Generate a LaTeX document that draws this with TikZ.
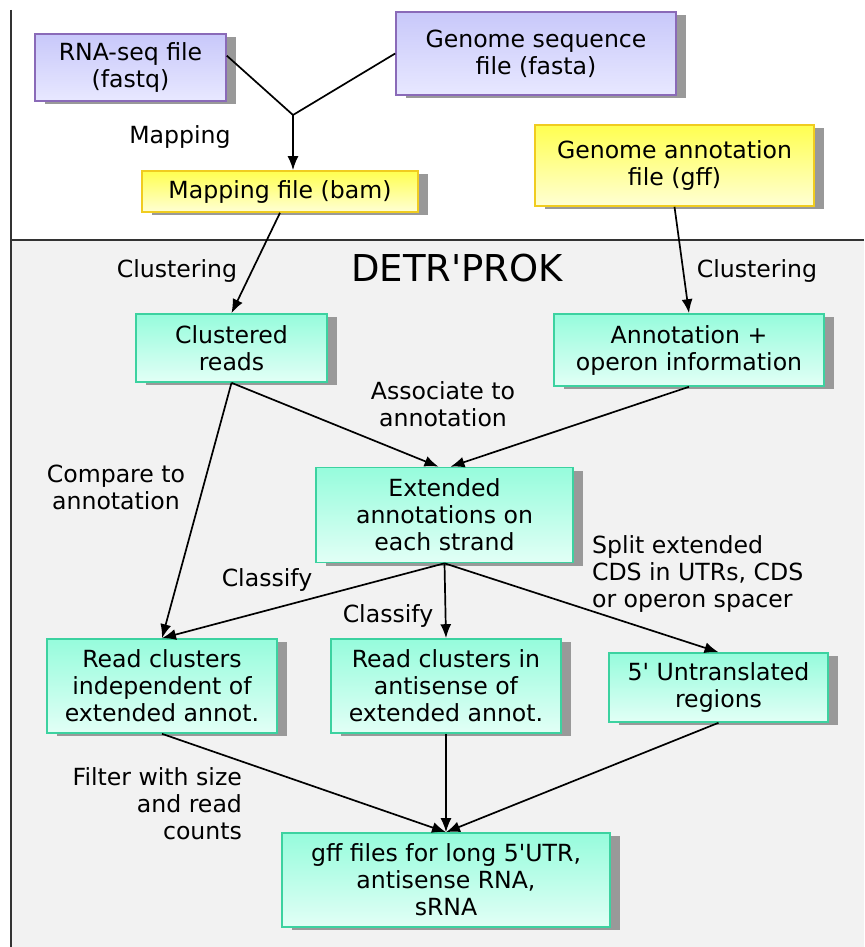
\documentclass[tikz,border=0pt]{standalone}
\usepackage{fontspec}
\setmainfont{DejaVu Sans}
\usetikzlibrary{arrows.meta,shadows,calc}
\definecolor{intop}{HTML}{C8C8FA}
\definecolor{inbot}{HTML}{E8E8FF}
\definecolor{inbord}{HTML}{8A6AB8}
\definecolor{filetop}{HTML}{FFFF50}
\definecolor{filebot}{HTML}{FFFFD4}
\definecolor{filebord}{HTML}{F0CC20}
\definecolor{steptop}{HTML}{96FCDC}
\definecolor{stepbot}{HTML}{E2FFF6}
\definecolor{stepbord}{HTML}{3CD2A0}
\definecolor{framefill}{HTML}{F2F2F2}
\definecolor{framecol}{HTML}{333333}
\newcommand{\apos}{\textquotesingle}
\begin{document}
\begin{tikzpicture}[x=0.5pt,y=-0.5pt,
  box/.style={draw,line width=0.8pt,align=center,inner sep=0pt,font=\fontsize{11.8}{13.5}\selectfont,
    general shadow={fill=black!40,shadow xshift=5pt,shadow yshift=-1.5pt}},
  inputbox/.style={box,draw=inbord,top color=intop,bottom color=inbot},
  filebox/.style={box,draw=filebord,top color=filetop,bottom color=filebot},
  stepbox/.style={box,draw=stepbord,top color=steptop,bottom color=stepbot},
  link/.style={line width=0.85pt,-{Latex[length=7pt,width=5.5pt]}},
  label/.style={align=center,font=\fontsize{11.8}{13.5}\selectfont}]
\useasboundingbox (0,0) rectangle (864,947);
% frame of the tool
\fill[framefill] (11,240) rectangle (864,947);
\draw[framecol,line width=0.8pt] (11,10) -- (11,947);
\draw[framecol,line width=0.8pt] (11,240) -- (864,240);
\node[font=\fontsize{18.5}{20}\selectfont] (title) at (457,268) {DETR\apos PROK};
% input files
\node[inputbox,minimum width=95.5pt,minimum height=33.5pt] (rnaseq) at (130.5,67.5) {RNA-seq file\\(fastq)};
\node[inputbox,minimum width=140pt,minimum height=41.5pt] (genseq) at (536,53.5) {Genome sequence\\file (fasta)};
\node[filebox,minimum width=138pt,minimum height=20.5pt] (bam) at (280,191.5) {Mapping file (bam)};
\node[filebox,minimum width=139.5pt,minimum height=40.5pt] (genann) at (674.5,165.5) {Genome annotation\\file (gff)};
% steps
\node[stepbox,minimum width=95.5pt,minimum height=34pt] (clreads) at (231.5,348) {Clustered\\reads};
\node[stepbox,minimum width=135pt,minimum height=36pt] (annop) at (689,350) {Annotation +\\operon information};
\node[stepbox,minimum width=128.5pt,minimum height=47.5pt] (extann) at (444.5,515) {Extended\\annotations on\\each strand};
\node[stepbox,minimum width=115pt,minimum height=47pt] (indep) at (162,686) {Read clusters\\independent of\\extended annot.};
\node[stepbox,minimum width=115pt,minimum height=47pt] (antis) at (446,686) {Read clusters in\\antisense of\\extended annot.};
\node[stepbox,minimum width=109.5pt,minimum height=34.5pt] (utr) at (718.5,687.5) {5\apos{} Untranslated\\regions};
\node[stepbox,minimum width=164pt,minimum height=47pt] (gff) at (446,880) {gff files for long 5\apos UTR,\\antisense RNA,\\sRNA};
% labels
\node[label] (maplab) at (180,137) {Mapping};
\node[label] (clustlabl) at (177,271) {Clustering};
\node[label] (clustlabr) at (757,271) {Clustering};
\node[label] (assoclab) at (443,404) {Associate to\\annotation};
\node[label] (complab) at (116,487) {Compare to\\annotation};
\node[label] (classlabl) at (267,580) {Classify};
\node[label] (classlabm) at (388,616) {Classify};
\node[label,align=left,anchor=west] (splitlab) at (585,574) {Split extended\\CDS in UTRs, CDS\\or operon spacer};
\node[label,align=right,anchor=east] (filtlab) at (249,804) {Filter with size\\and read\\counts};
% connectors
\coordinate (junc) at (293,115);
\draw[line width=0.85pt] (rnaseq.7) -- (junc) -- (genseq.west);
\draw[link] (junc) -- (junc |- bam.north);
\draw[link] (bam.south) -- (clreads.north);
\draw[link] (genann.south) -- (annop.north);
\draw[link] (clreads.south) -- ($(extann.north)+(-6,0)$);
\draw[link] (annop.south) -- ($(extann.north)+(6,0)$);
\draw[link] (clreads.south) -- (indep.north);
\draw[link] (extann.south) -- (indep.north);
\draw[link] (extann.south) -- (antis.north);
\draw[link] (extann.south) -- (utr.north);
\draw[link] (indep.south) -- (gff.north);
\draw[link] (antis.south) -- (gff.north);
\draw[link] (utr.south) -- (gff.north);
\end{tikzpicture}
\end{document}
